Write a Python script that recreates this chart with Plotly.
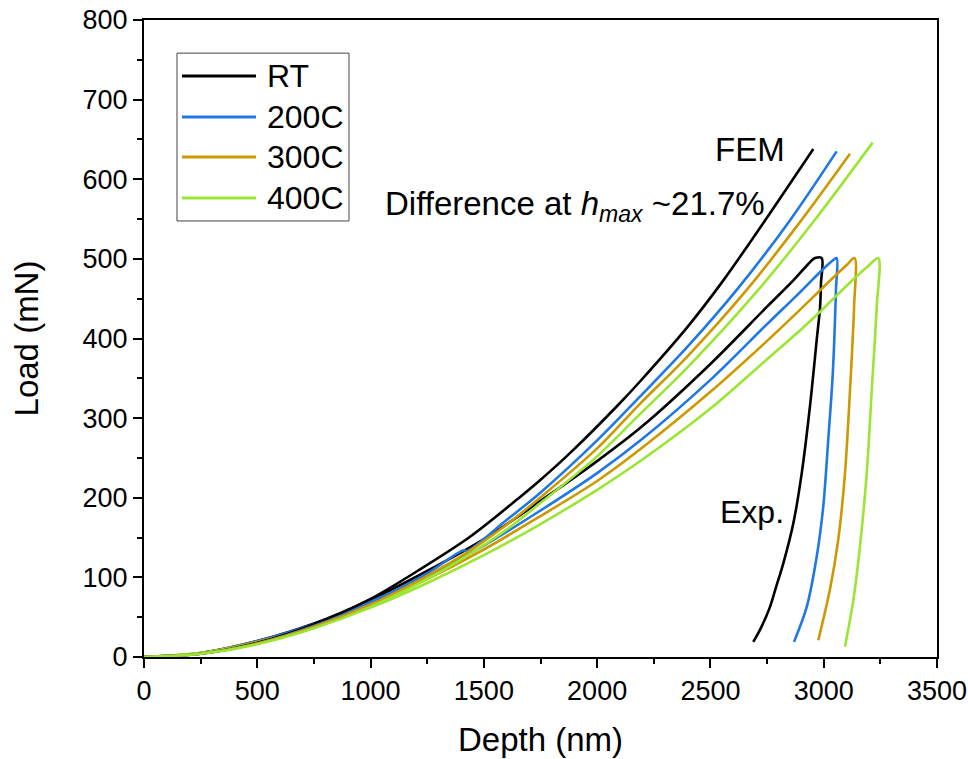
import plotly.graph_objects as go

# ---- data: depth (nm) / load (mN) ----
series_names = ["RT", "200C", "300C", "400C"]
series_colors = ["#000000", "#1F78E3", "#CC9900", "#9BE533"]

# FEM loading curves
fem_rt_depth = [0, 250, 500, 750, 1000, 1218, 1439, 1660, 1748, 1880, 2101, 2189, 2400, 2557, 2750, 2954]
fem_rt_load = [0, 4, 18, 41, 73, 110, 151, 201, 222, 256, 319, 346, 415, 473, 552, 638]

fem_200_depth = [0, 250, 500, 750, 1000, 1250, 1410, 1425, 1600, 1748, 2000, 2189, 2400, 2616, 2850, 3057]
fem_200_load = [0, 4, 17, 39, 68, 105, 134, 133, 172, 206, 272, 327, 390, 461, 548, 635]

fem_300_depth = [0, 250, 500, 750, 1000, 1250, 1425, 1600, 1748, 2000, 2189, 2400, 2660, 2900, 3116]
fem_300_load = [0, 4, 17, 38, 66, 102, 131, 166, 200, 262, 318, 378, 461, 548, 632]

fem_400_depth = [0, 250, 500, 750, 1000, 1250, 1425, 1600, 1748, 2000, 2189, 2400, 2711, 2950, 3216]
fem_400_load = [0, 4, 16, 36, 63, 98, 127, 160, 193, 252, 305, 364, 461, 545, 646]

# Experimental loading + unloading curves
exp_rt_depth = [0, 250, 500, 750, 1000, 1250, 1500, 1750, 2000, 2200, 2500, 2750, 2866, 2930, 2962, 2991,
                2988, 2984, 2969, 2939, 2903, 2866, 2822, 2790, 2763, 2722, 2689]
exp_rt_load = [0, 5, 20, 42, 72, 108, 148, 196, 246, 290, 368, 440, 473, 493, 501, 501,
               470, 440, 398, 314, 231, 168, 118, 88, 63, 36, 19]

exp_200_depth = [0, 250, 500, 750, 1000, 1250, 1500, 1750, 2000, 2200, 2500, 2750, 2895, 3000, 3040, 3057,
                 3054, 3040, 3020, 2998, 2969, 2925, 2869]
exp_200_load = [0, 5, 20, 41, 69, 102, 140, 184, 231, 274, 348, 418, 458, 488, 498, 501,
                461, 356, 273, 189, 126, 63, 19]

exp_300_depth = [0, 250, 500, 750, 1000, 1250, 1500, 1750, 2000, 2200, 2500, 2750, 2895, 3000, 3100, 3136,
                 3134, 3116, 3094, 3064, 3027, 2976]
exp_300_load = [0, 5, 19, 39, 66, 98, 135, 177, 221, 263, 333, 397, 436, 465, 492, 501,
                440, 335, 231, 147, 84, 21]

exp_400_depth = [0, 250, 500, 750, 1000, 1250, 1500, 1750, 2000, 2200, 2500, 2750, 2895, 3000, 3100, 3200, 3241,
                 3234, 3212, 3190, 3160, 3131, 3094]
exp_400_load = [0, 5, 18, 37, 62, 93, 128, 167, 210, 248, 312, 374, 410, 438, 466, 492, 501,
                440, 335, 231, 139, 72, 13]

fem_curves = [(fem_rt_depth, fem_rt_load), (fem_200_depth, fem_200_load),
              (fem_300_depth, fem_300_load), (fem_400_depth, fem_400_load)]
exp_curves = [(exp_rt_depth, exp_rt_load), (exp_200_depth, exp_200_load),
              (exp_300_depth, exp_300_load), (exp_400_depth, exp_400_load)]

FONT = "Liberation Sans, Arial, sans-serif"

fig = go.Figure()
for name, color, (xd, yd) in zip(series_names, series_colors, exp_curves):
    fig.add_trace(go.Scatter(x=xd, y=yd, mode="lines", name=name, showlegend=False,
                             line=dict(color=color, width=2.6, shape="spline", smoothing=0.9)))
for name, color, (xd, yd) in zip(series_names, series_colors, fem_curves):
    fig.add_trace(go.Scatter(x=xd, y=yd, mode="lines", name=name, showlegend=False,
                             line=dict(color=color, width=2.6, shape="spline", smoothing=0.9)))

# ---- boxed legend drawn in paper coordinates ----
shapes = [dict(type="rect", xref="paper", yref="paper", x0=0.0416, x1=0.2585, y0=0.6845, y1=0.948,
               line=dict(color="#444444", width=1), fillcolor="white", layer="above")]
annotations = []
legend_y = [0.912, 0.8477, 0.785, 0.7206]
for name, color, ly in zip(series_names, series_colors, legend_y):
    shapes.append(dict(type="line", xref="paper", yref="paper", x0=0.0479, x1=0.1412, y0=ly, y1=ly,
                       line=dict(color=color, width=3), layer="above"))
    annotations.append(dict(xref="paper", yref="paper", x=0.1526, y=ly, text=name, showarrow=False,
                            xanchor="left", yanchor="middle", font=dict(family=FONT, size=32, color="black")))

annotations += [
    dict(x=2675, y=637, text="FEM", showarrow=False, font=dict(family=FONT, size=33, color="black")),
    dict(x=1902, y=566, text="Difference at <i>h</i><sub><i>max</i></sub> ~21.7%", showarrow=False,
         font=dict(family=FONT, size=33, color="black")),
    dict(x=2684, y=182, text="Exp.", showarrow=False, font=dict(family=FONT, size=32, color="black")),
]

axis_common = dict(
    showgrid=False, zeroline=False, showline=True, linecolor="black", linewidth=2, mirror=True,
    ticks="outside", ticklen=9, tickwidth=2, tickcolor="black", automargin=False,
    tickfont=dict(family=FONT, size=27, color="black"),
)

fig.update_layout(
    width=968, height=759,
    margin=dict(l=144, r=31, t=20, b=102),
    paper_bgcolor="white", plot_bgcolor="white",
    showlegend=False,
    shapes=shapes, annotations=annotations,
    xaxis=dict(range=[0, 3500], dtick=500, tick0=0,
               minor=dict(dtick=250, ticklen=5, tickwidth=2, ticks="outside", tickcolor="black"),
               title=dict(text="Depth (nm)", font=dict(family=FONT, size=33, color="black"), standoff=22),
               **axis_common),
    yaxis=dict(range=[0, 800], dtick=100, tick0=0,
               minor=dict(dtick=50, ticklen=5, tickwidth=2, ticks="outside", tickcolor="black"),
               title=dict(text="Load (mN)", font=dict(family=FONT, size=33, color="black"), standoff=34),
               **axis_common),
)

fig.write_html("out.html")
